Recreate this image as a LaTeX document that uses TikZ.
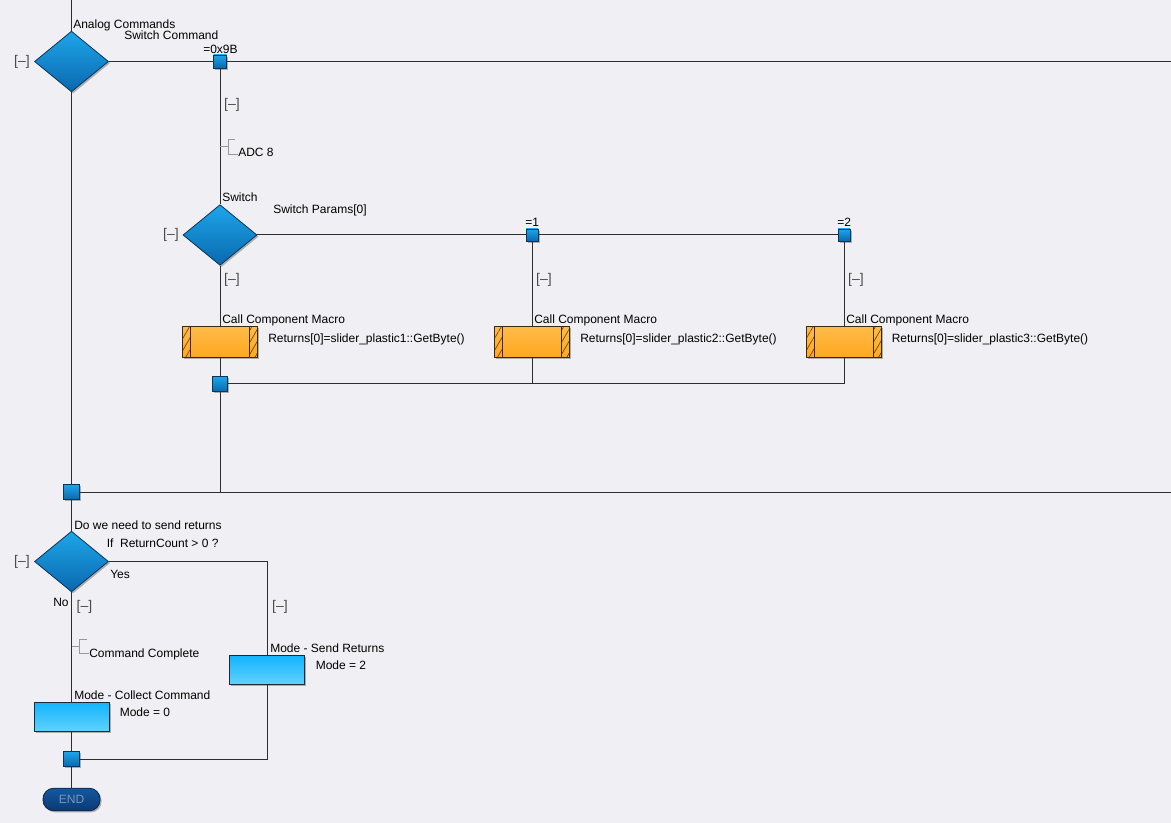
\documentclass[tikz,border=0pt]{standalone}
\usepackage{fontspec}
\setmainfont{Liberation Sans}
\usetikzlibrary{shapes.geometric,shadows,patterns.meta}
\definecolor{bgc}{HTML}{F0F0F4}
\definecolor{linec}{HTML}{2E2E2E}
\definecolor{diatop}{HTML}{1EA6EA}
\definecolor{diabot}{HTML}{0A68AE}
\definecolor{diaedge}{HTML}{0A3558}
\definecolor{ortop}{HTML}{FFBB48}
\definecolor{orbot}{HTML}{FFA81E}
\definecolor{oredge}{HTML}{3A2A10}
\definecolor{hatchc}{HTML}{6A4210}
\definecolor{cytop}{HTML}{12B4FC}
\definecolor{cybot}{HTML}{62D2FF}
\definecolor{cyedge}{HTML}{1A2A3A}
\definecolor{endtop}{HTML}{1458A0}
\definecolor{endbot}{HTML}{0A3A72}
\definecolor{endedge}{HTML}{0A2448}
\definecolor{endtext}{HTML}{7A98BC}
\definecolor{markc}{HTML}{4A4A4A}
\begin{document}
\begin{tikzpicture}[x=0.75pt,y=-0.75pt,
  font=\fontsize{9}{10.5}\selectfont,
  conn/.style={draw=linec,line width=0.75pt},
  shad/.style={drop shadow={shadow xshift=1.2pt,shadow yshift=-1.2pt,fill=black,opacity=0.28}},
  dia/.style={diamond,shad,inner sep=0pt,minimum width=55.5pt,minimum height=45.5pt,
    top color=diatop,bottom color=diabot,draw=diaedge,line width=0.6pt},
  jsq/.style={rectangle,shad,inner sep=0pt,minimum size=#1,
    top color=diatop,bottom color=diabot,draw=diaedge,line width=0.6pt},
  macro/.style={rectangle,shad,inner sep=0pt,minimum width=56pt,minimum height=23pt,
    top color=ortop,bottom color=orbot,draw=oredge,line width=0.6pt},
  calc/.style={rectangle,shad,inner sep=0pt,minimum width=56.25pt,minimum height=22pt,
    top color=cytop,bottom color=cybot,draw=cyedge,line width=0.6pt},
  endbox/.style={rectangle,rounded corners=8pt,shad,inner sep=0pt,minimum width=42.75pt,minimum height=16.9pt,
    top color=endtop,bottom color=endbot,draw=endedge,line width=0.6pt,text=endtext},
  lbl/.style={anchor=base west,inner sep=0pt,text=black},
  collapsemark/.style={anchor=center,inner sep=0pt,text=markc,font=\fontsize{10.5}{12}\selectfont},
  cmt/.style={draw=gray!80,line width=0.6pt},
]
\useasboundingbox[fill=bgc] (0,0) rectangle (1171,823);

% ---- shapes ----
\node[dia] (d1) at (71.5,61.5) {};
\node[jsq=9.75pt] (s1) at (220,61.5) {};
\node[dia] (d2) at (220,235) {};
\node[jsq=9pt] (s2) at (532,235) {};
\node[jsq=9pt] (s3) at (844,235) {};
\node[macro] (o1) at (220,342) {};
\node[macro] (o2) at (532,342) {};
\node[macro] (o3) at (844,342) {};
\node[jsq=11.25pt] (j1) at (220,384) {};
\node[jsq=11.5pt] (j0) at (71.5,492) {};
\node[dia] (d3) at (71.5,561.5) {};
\node[calc] (m2) at (267,670) {};
\node[calc] (m1) at (71.5,717) {};
\node[jsq=11.5pt] (j3) at (71.5,759) {};
\node[endbox] (end) at (71.5,799.5) {END};

% hatched ends of macro boxes
\foreach \o in {o1,o2,o3}{
  \draw[oredge,line width=0.5pt,pattern={Lines[angle=60,distance=4.5pt,line width=0.5pt]},pattern color=hatchc]
    (\o.north west) rectangle ([xshift=6pt]\o.south west);
  \draw[oredge,line width=0.5pt,pattern={Lines[angle=60,distance=4.5pt,line width=0.5pt]},pattern color=hatchc]
    ([xshift=-6pt]\o.north east) rectangle (\o.south east);
}

% ---- coordinates for free ends ----
\coordinate (top) at (71.5,0);
\coordinate (r1) at (1171,61.5);
\coordinate (r2) at (1171,492);

% ---- connectors ----
\draw[conn] (top) -- (d1.north);
\draw[conn] (d1.east) -- (s1.west);
\draw[conn] (s1.east) -- (r1);
\draw[conn] (s1.south) -- (d2.north);
\draw[conn] (d2.east) -- (s2.west);
\draw[conn] (s2.east) -- (s3.west);
\draw[conn] (d2.south) -- (o1.north);
\draw[conn] (s2.south) -- (o2.north);
\draw[conn] (s3.south) -- (o3.north);
\draw[conn] (o1.south) -- (j1.north);
\draw[conn] (o2.south) |- (j1.east);
\draw[conn] (o3.south) |- (j1.east);
\draw[conn] (j1.south) -- (j1.south |- j0.east);
\draw[conn] (d1.south) -- (j0.north);
\draw[conn] (j0.east) -- (r2);
\draw[conn] (j0.south) -- (d3.north);
\draw[conn] (d3.east) -| (m2.north);
\draw[conn] (m2.south) |- (j3.east);
\draw[conn] (d3.south) -- (m1.north);
\draw[conn] (m1.south) -- (j3.north);
\draw[conn] (j3.south) -- (end.north);

% ---- comment brackets ----
\draw[cmt] (220,146) -- (228,146);
\draw[cmt] (235,139) -- (228,139) -- (228,154) -- (238,154);
\draw[cmt] (71.5,646) -- (79,646);
\draw[cmt] (87,639) -- (79,639) -- (79,653) -- (89,653);

% ---- labels ----
\node[lbl] (t1) at (73,29) {Analog Commands};
\node[lbl] (t2) at (124,39.5) {Switch Command};
\node[lbl] (t3) at (203,54) {=0x9B};
\node[lbl] (t4) at (238,156.5) {ADC 8};
\node[lbl] (t5) at (222,202) {Switch};
\node[lbl] (t6) at (273,213.5) {Switch Params[0]};
\node[lbl] (t7) at (525,227) {=1};
\node[lbl] (t8) at (837,227) {=2};
\node[lbl] (c1) at (222,324) {Call Component Macro};
\node[lbl] (c2) at (534,324) {Call Component Macro};
\node[lbl] (c3) at (846,324) {Call Component Macro};
\node[lbl] (g1) at (268,343) {Returns[0]=slider\_plastic1::GetByte()};
\node[lbl] (g2) at (580,343) {Returns[0]=slider\_plastic2::GetByte()};
\node[lbl] (g3) at (891.5,343) {Returns[0]=slider\_plastic3::GetByte()};
\node[lbl] (t9) at (74,529) {Do we need to send returns};
\node[lbl] (t10) at (106.5,547) {If\ \ ReturnCount > 0 ?};
\node[lbl] (t11) at (110,578) {Yes};
\node[lbl] (t12) at (53,606) {No};
\node[lbl] (t13) at (89,657.5) {Command Complete};
\node[lbl] (t14) at (270,652) {Mode - Send Returns};
\node[lbl] (t15) at (315.5,669.5) {Mode = 2};
\node[lbl] (t16) at (74,699) {Mode - Collect Command};
\node[lbl] (t17) at (119.5,716.5) {Mode = 0};

% ---- collapse markers ----
\node[collapsemark] (k1) at (22,61.5) {[–]};
\node[collapsemark] (k2) at (232,105) {[–]};
\node[collapsemark] (k3) at (171,235) {[–]};
\node[collapsemark] (k4) at (232,280) {[–]};
\node[collapsemark] (k5) at (544,280) {[–]};
\node[collapsemark] (k6) at (856,280) {[–]};
\node[collapsemark] (k7) at (22,561.5) {[–]};
\node[collapsemark] (k8) at (84.5,607) {[–]};
\node[collapsemark] (k9) at (280,607) {[–]};
\end{tikzpicture}
\end{document}
